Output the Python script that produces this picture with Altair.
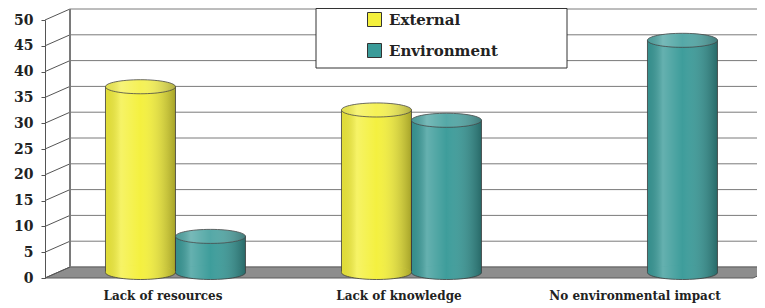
import altair as alt
import pandas as pd

# ---------------- data ----------------
categories = ["Lack of resources", "Lack of knowledge", "No environmental impact"]
series = ["External", "Environment"]
external = [36, 31.5, 0]
environment = [7, 29.5, 45]
y_ticks = [0, 5, 10, 15, 20, 25, 30, 35, 40, 45, 50]
colors = ["#F4F03C", "#3A9B99"]

# ---------------- layout ----------------
W, H = 708, 258          # front plot area
DX, DY = 25, 11          # depth offset of the back wall
MY = 5.5                 # mid-depth vertical offset for the cylinders
FONT = "DejaVu Serif"
INK = "#222222"
EDGE = "#3c3c3c"

rows = []
for c, e, v in zip(categories, external, environment):
    rows.append({"category": c, "series": series[0], "value": e})
    rows.append({"category": c, "series": series[1], "value": v})
df = pd.DataFrame(rows)
ticks_df = pd.DataFrame({"t": y_ticks})
floor_df = pd.DataFrame({
    "fx": [0, DX, W, W + DX],
    "fy": [H, H - DY, H - DY, H - DY],
    "fy2": [H, H, H, H - DY],
})

yscale = alt.Scale(domain=[0, 50], nice=False, zero=True)
xscale = alt.Scale(domain=categories, paddingInner=0, paddingOuter=0)
oscale = alt.Scale(domain=series, paddingInner=0, paddingOuter=0.686, align=0.63)
cscale = alt.Scale(domain=series, range=colors)

yaxis = alt.Axis(values=y_ticks, title=None, grid=False, labelFont=FONT,
                 labelFontWeight="bold", labelFontSize=14, labelColor=INK,
                 tickColor="#555555", tickSize=4, domainColor="#555555",
                 labelPadding=8, labelOverlap=False)
xaxis = alt.Axis(title=None, labelAngle=0, ticks=False, domain=False,
                 labelFont=FONT, labelFontWeight="bold", labelFontSize=12,
                 labelColor=INK, labelPadding=12)

X = alt.X("category:N", scale=xscale, sort=categories, axis=xaxis)
XO = alt.XOffset("series:N", scale=oscale, sort=series)
YV = alt.Y("value:Q", scale=yscale, axis=yaxis)
Y0 = alt.datum(0, scale=yscale, axis=yaxis)

shade = alt.LinearGradient(
    gradient="linear", x1=0, x2=1, y1=0, y2=0,
    stops=[
        alt.GradientStop(offset=0, color="rgba(0,0,0,0.08)"),
        alt.GradientStop(offset=0.22, color="rgba(255,255,255,0.22)"),
        alt.GradientStop(offset=0.5, color="rgba(255,255,255,0.02)"),
        alt.GradientStop(offset=1, color="rgba(0,0,0,0.32)"),
    ],
)

ELLIPSE = "M-1,0A1,0.2,0,1,1,1,0A1,0.2,0,1,1,-1,0Z"
FRONT_ARC = "M-1,0A1,0.2,0,0,0,1,0"
SYM = 70 * 70

# ---------------- chart pieces ----------------
floor = alt.Chart(floor_df).mark_area(
    fill="#8d8d8d", stroke="#5a5a5a", strokeWidth=1, opacity=1
).encode(
    x=alt.X("fx:Q", scale=None, axis=None),
    y=alt.Y("fy:Q", scale=None, axis=None),
    y2="fy2:Q",
)

wall_grid = alt.Chart(ticks_df).mark_rule(
    color="#7a7a7a", strokeWidth=1, xOffset=DX, x2Offset=DX,
    yOffset=-DY, y2Offset=-DY
).encode(
    y=alt.Y("t:Q", scale=yscale, axis=yaxis), y2="t:Q",
    x=alt.value(0), x2=alt.value(W),
)

side_grid = alt.Chart(ticks_df).mark_rule(
    color="#555555", strokeWidth=1, y2Offset=-DY
).encode(
    y=alt.Y("t:Q", scale=yscale, axis=yaxis), y2="t:Q",
    x=alt.value(0), x2=alt.value(DX),
)

back_edge = alt.Chart(ticks_df).mark_rule(
    color="#7a7a7a", strokeWidth=1, yOffset=-DY, y2Offset=-DY
).encode(
    y=Y0, y2=alt.datum(50),
    x=alt.value(DX),
)

legend_frame = alt.Chart(pd.DataFrame({"k": [0]})).mark_rect(
    fill="white", stroke="#333333", strokeWidth=1
).encode(
    x=alt.value(271), x2=alt.value(522), y=alt.value(-11.5), y2=alt.value(48)
)

base = alt.Chart(df).transform_filter("datum.value > 0")

bars = base.mark_bar(yOffset=-MY, y2Offset=-MY, opacity=1).encode(
    x=X, xOffset=XO, y=YV,
    color=alt.Color("series:N", scale=cscale, sort=series, legend=alt.Legend(
        orient="none", legendX=322, legendY=-8, title=None,
        symbolType="square", symbolSize=196, symbolStrokeColor="#333333",
        symbolStrokeWidth=1, symbolOpacity=1, labelFont=FONT,
        labelFontWeight="bold", labelFontSize=15, labelColor=INK,
        rowPadding=12, labelOffset=7, padding=0,
    )),
)

bars_shade = base.mark_bar(
    yOffset=-MY, y2Offset=-MY, fill=shade, stroke=EDGE, strokeWidth=0.8
).encode(x=X, xOffset=XO, y=YV)

bottom_fill = base.mark_point(
    shape=ELLIPSE, size=SYM, filled=True, opacity=1, yOffset=-MY
).encode(
    x=X, xOffset=XO, y=Y0,
    color=alt.Color("series:N", scale=cscale, sort=series, legend=None),
)

bottom_shade = base.mark_point(
    shape=ELLIPSE, size=SYM, filled=True, fill=shade, opacity=1, yOffset=-MY
).encode(x=X, xOffset=XO, y=Y0)

bottom_arc = base.mark_point(
    shape=FRONT_ARC, size=SYM, filled=False, stroke=EDGE, strokeWidth=0.8,
    opacity=1, yOffset=-MY
).encode(x=X, xOffset=XO, y=Y0)

top_fill = base.mark_point(
    shape=ELLIPSE, size=SYM, filled=True, opacity=1, yOffset=-MY
).encode(
    x=X, xOffset=XO, y=YV,
    color=alt.Color("series:N", scale=cscale, sort=series, legend=None),
)

top_shade = base.mark_point(
    shape=ELLIPSE, size=SYM, filled=True, fill=shade, opacity=1,
    stroke=EDGE, strokeWidth=0.8, yOffset=-MY
).encode(x=X, xOffset=XO, y=YV)

top_light = base.mark_point(
    shape=ELLIPSE, size=SYM, filled=True, fill="white", fillOpacity=0.12,
    opacity=1, yOffset=-MY
).encode(x=X, xOffset=XO, y=YV)

chart = alt.layer(
    floor, wall_grid, side_grid, back_edge, legend_frame,
    bars, bars_shade, bottom_fill, bottom_shade, bottom_arc,
    top_fill, top_shade, top_light,
).properties(
    width=W, height=H,
    padding={"left": 37, "top": 12, "right": 4, "bottom": 28},
    autosize=alt.AutoSizeParams(type="none"),
    background="white",
).configure_view(stroke=None).configure_axisY(
    values=y_ticks, labelOverlap=False
)

chart.save("out.html", embed_options={"renderer": "svg", "actions": False})
